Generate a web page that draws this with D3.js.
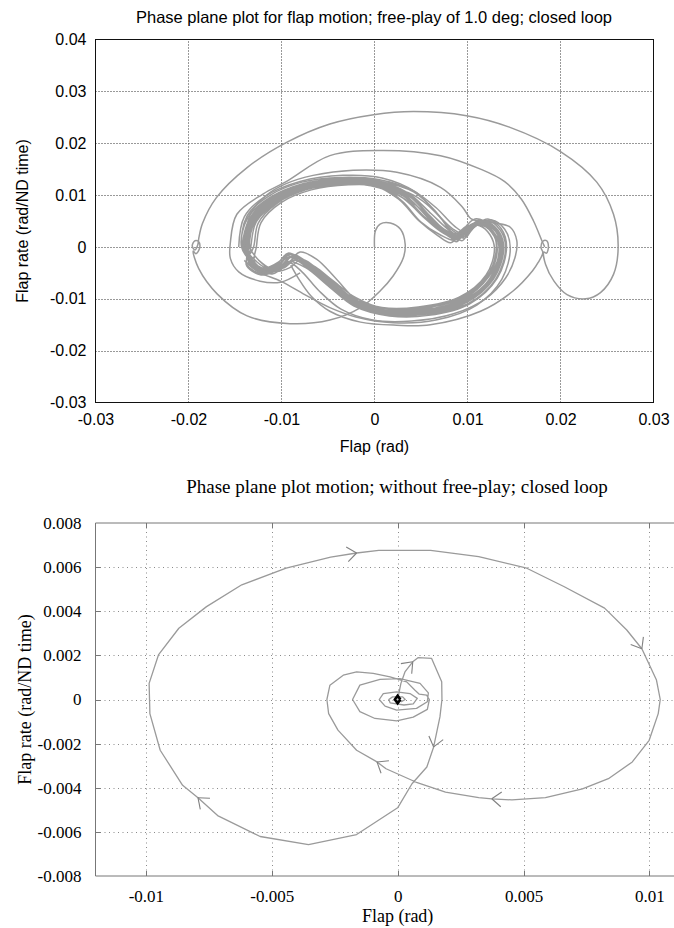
<!DOCTYPE html>
<html>
<head>
<meta charset="utf-8">
<script src="https://cdn.jsdelivr.net/npm/d3@7"></script>
<style>
  html, body { margin: 0; padding: 0; background: #fff; }
  svg { display: block; }
</style>
</head>
<body>
<div id="chart"></div>
<script>
// ---------- top panel: free-play of 1.0 deg ----------
const topTitle = "Phase plane plot for flap motion; free-play of 1.0 deg; closed loop";
const topXTicks = [-0.03, -0.02, -0.01, 0, 0.01, 0.02, 0.03];
const topXLabels = ["-0.03", "-0.02", "-0.01", "0", "0.01", "0.02", "0.03"];
const topYTicks = [-0.03, -0.02, -0.01, 0, 0.01, 0.02, 0.03, 0.04];
const topYLabels = ["-0.03", "-0.02", "-0.01", "0", "0.01", "0.02", "0.03", "0.04"];

// first swing: origin loop, lower-left arc, left stop, outer orbit, right stop, return
const topTransient = [
  [0.0000, 0.0000], [0.0001, 0.0031], [0.0006, 0.0044], [0.0017, 0.0046], [0.0028, 0.0034],
  [0.0033, 0.0005], [0.0031, -0.0021], [0.0020, -0.0056], [0.0006, -0.0085],
  [-0.0015, -0.0117], [-0.0048, -0.0141], [-0.0091, -0.0148], [-0.0137, -0.0133],
  [-0.0169, -0.0091], [-0.0189, -0.0042], [-0.0195, -0.0008],
  [-0.0192, -0.0013], [-0.0188, -0.0002], [-0.0189, 0.0010], [-0.0193, 0.0012],
  [-0.0196, 0.0002], [-0.0193, -0.0006], [-0.0190, 0.0004], [-0.0189, 0.0016],
  [-0.0185, 0.0045], [-0.0170, 0.0095], [-0.0137, 0.0153], [-0.0094, 0.0202],
  [-0.0048, 0.0237], [-0.0001, 0.0255], [0.0042, 0.0261], [0.0099, 0.0253],
  [0.0145, 0.0231], [0.0200, 0.0184], [0.0239, 0.0125], [0.0257, 0.0063],
  [0.0262, 0.0000], [0.0257, -0.0053], [0.0243, -0.0088], [0.0227, -0.0100],
  [0.0207, -0.0092], [0.0193, -0.0066], [0.0184, -0.0034], [0.0182, -0.0010],
  [0.0185, -0.0012], [0.0187, 0.0001], [0.0185, 0.0012], [0.0181, 0.0011],
  [0.0179, -0.0001], [0.0181, -0.0011],
  [0.0176, -0.0030], [0.0170, -0.0046], [0.0149, -0.0085], [0.0114, -0.0124],
  [0.0060, -0.0150], [0.0024, -0.0151], [-0.0015, -0.0145], [-0.0048, -0.0124],
  [-0.0068, -0.0095], [-0.0082, -0.0060], [-0.0090, -0.0035]
];

// the settled band of limit-cycle loops, one entry per orbit
const bandLoops = [
  [[-0.0137,0.0000],[-0.0131,0.0052],[-0.0106,0.0092],[-0.0072,0.0118],[-0.0032,0.0128],[0.0004,0.0123],[0.0034,0.0098],[0.0057,0.0058],[0.0076,0.0028],[0.0090,0.0016],[0.0100,0.0034],[0.0115,0.0046],[0.0130,0.0030],[0.0136,-0.0004],[0.0125,-0.0060],[0.0096,-0.0104],[0.0052,-0.0123],[0.0012,-0.0125],[-0.0024,-0.0104],[-0.0050,-0.0066],[-0.0074,-0.0030],[-0.0088,-0.0017],[-0.0098,-0.0034],[-0.0116,-0.0046],[-0.0131,-0.0030]],
  [[-0.0141,0.0000],[-0.0134,0.0055],[-0.0109,0.0095],[-0.0074,0.0121],[-0.0030,0.0131],[0.0006,0.0126],[0.0042,0.0106],[0.0066,0.0068],[0.0082,0.0030],[0.0094,0.0012],[0.0103,0.0032],[0.0118,0.0050],[0.0133,0.0032],[0.0139,-0.0003],[0.0128,-0.0062],[0.0098,-0.0108],[0.0054,-0.0128],[0.0012,-0.0129],[-0.0026,-0.0107],[-0.0053,-0.0068],[-0.0078,-0.0028],[-0.0092,-0.0013],[-0.0102,-0.0033],[-0.0118,-0.0050],[-0.0135,-0.0032]],
  [[-0.0133,0.0000],[-0.0127,0.0049],[-0.0103,0.0088],[-0.0070,0.0113],[-0.0034,0.0123],[0.0001,0.0119],[0.0031,0.0094],[0.0053,0.0057],[0.0071,0.0030],[0.0085,0.0019],[0.0096,0.0035],[0.0112,0.0043],[0.0126,0.0028],[0.0132,-0.0005],[0.0122,-0.0058],[0.0093,-0.0100],[0.0049,-0.0119],[0.0010,-0.0121],[-0.0022,-0.0100],[-0.0047,-0.0064],[-0.0070,-0.0032],[-0.0084,-0.0020],[-0.0095,-0.0036],[-0.0113,-0.0043],[-0.0127,-0.0028]],
  [[-0.0139,0.0000],[-0.0132,0.0054],[-0.0107,0.0093],[-0.0071,0.0120],[-0.0028,0.0129],[0.0008,0.0122],[0.0040,0.0094],[0.0062,0.0052],[0.0079,0.0024],[0.0088,0.0010],[0.0097,0.0028],[0.0113,0.0052],[0.0131,0.0035],[0.0138,0.0000],[0.0127,-0.0059],[0.0099,-0.0106],[0.0056,-0.0126],[0.0015,-0.0127],[-0.0021,-0.0108],[-0.0048,-0.0070],[-0.0072,-0.0034],[-0.0086,-0.0022],[-0.0096,-0.0038],[-0.0112,-0.0048],[-0.0132,-0.0028]],
  [[-0.0136,0.0000],[-0.0130,0.0050],[-0.0108,0.0090],[-0.0076,0.0116],[-0.0036,0.0127],[0.0000,0.0124],[0.0030,0.0103],[0.0054,0.0064],[0.0074,0.0031],[0.0093,0.0021],[0.0104,0.0037],[0.0119,0.0044],[0.0132,0.0026],[0.0135,-0.0006],[0.0123,-0.0057],[0.0094,-0.0102],[0.0050,-0.0122],[0.0010,-0.0123],[-0.0027,-0.0100],[-0.0053,-0.0062],[-0.0076,-0.0026],[-0.0091,-0.0014],[-0.0101,-0.0030],[-0.0118,-0.0042],[-0.0130,-0.0032]],
  [[-0.0143,0.0000],[-0.0136,0.0057],[-0.0111,0.0097],[-0.0076,0.0122],[-0.0033,0.0132],[0.0004,0.0127],[0.0036,0.0104],[0.0061,0.0064],[0.0082,0.0030],[0.0097,0.0017],[0.0106,0.0036],[0.0121,0.0051],[0.0135,0.0033],[0.0141,-0.0002],[0.0130,-0.0063],[0.0100,-0.0110],[0.0055,-0.0130],[0.0013,-0.0131],[-0.0025,-0.0110],[-0.0052,-0.0070],[-0.0080,-0.0030],[-0.0095,-0.0016],[-0.0105,-0.0034],[-0.0120,-0.0052],[-0.0137,-0.0034]],
  [[-0.0135,0.0000],[-0.0129,0.0051],[-0.0105,0.0090],[-0.0073,0.0115],[-0.0031,0.0125],[0.0005,0.0119],[0.0030,0.0088],[0.0050,0.0048],[0.0070,0.0024],[0.0086,0.0013],[0.0094,0.0030],[0.0110,0.0047],[0.0127,0.0031],[0.0134,-0.0002],[0.0124,-0.0061],[0.0095,-0.0103],[0.0051,-0.0121],[0.0011,-0.0122],[-0.0023,-0.0102],[-0.0049,-0.0065],[-0.0073,-0.0029],[-0.0087,-0.0015],[-0.0097,-0.0032],[-0.0114,-0.0047],[-0.0129,-0.0030]],
  [[-0.0138,0.0000],[-0.0131,0.0053],[-0.0107,0.0092],[-0.0073,0.0119],[-0.0031,0.0129],[0.0005,0.0125],[0.0037,0.0101],[0.0059,0.0061],[0.0078,0.0029],[0.0092,0.0018],[0.0101,0.0035],[0.0116,0.0048],[0.0131,0.0031],[0.0137,-0.0004],[0.0126,-0.0060],[0.0097,-0.0105],[0.0053,-0.0125],[0.0013,-0.0126],[-0.0023,-0.0105],[-0.0051,-0.0067],[-0.0075,-0.0031],[-0.0090,-0.0018],[-0.0100,-0.0035],[-0.0117,-0.0047],[-0.0132,-0.0031]],
  [[-0.0140,0.0000],[-0.0134,0.0056],[-0.0110,0.0096],[-0.0077,0.0122],[-0.0035,0.0130],[0.0002,0.0124],[0.0032,0.0097],[0.0055,0.0056],[0.0077,0.0025],[0.0089,0.0014],[0.0099,0.0033],[0.0114,0.0049],[0.0129,0.0034],[0.0137,0.0001],[0.0127,-0.0058],[0.0098,-0.0104],[0.0054,-0.0124],[0.0014,-0.0125],[-0.0022,-0.0103],[-0.0049,-0.0066],[-0.0073,-0.0032],[-0.0089,-0.0019],[-0.0099,-0.0037],[-0.0115,-0.0049],[-0.0133,-0.0034]],
  [[-0.0137,0.0000],[-0.0132,0.0048],[-0.0110,0.0088],[-0.0075,0.0114],[-0.0033,0.0124],[0.0003,0.0120],[0.0033,0.0096],[0.0058,0.0060],[0.0077,0.0032],[0.0091,0.0022],[0.0102,0.0038],[0.0117,0.0042],[0.0129,0.0024],[0.0134,-0.0006],[0.0123,-0.0064],[0.0094,-0.0106],[0.0050,-0.0125],[0.0011,-0.0124],[-0.0024,-0.0101],[-0.0051,-0.0061],[-0.0077,-0.0025],[-0.0093,-0.0012],[-0.0103,-0.0029],[-0.0119,-0.0041],[-0.0133,-0.0027]],
  [[-0.0139,0.0000],[-0.0133,0.0053],[-0.0108,0.0094],[-0.0074,0.0120],[-0.0032,0.0130],[0.0005,0.0125],[0.0036,0.0100],[0.0059,0.0059],[0.0079,0.0028],[0.0095,0.0019],[0.0105,0.0037],[0.0120,0.0048],[0.0134,0.0029],[0.0139,-0.0004],[0.0128,-0.0061],[0.0099,-0.0107],[0.0054,-0.0127],[0.0013,-0.0128],[-0.0024,-0.0106],[-0.0052,-0.0068],[-0.0077,-0.0032],[-0.0093,-0.0020],[-0.0104,-0.0038],[-0.0120,-0.0047],[-0.0134,-0.0030]],
  [[-0.0136,0.0000],[-0.0130,0.0051],[-0.0106,0.0091],[-0.0072,0.0117],[-0.0030,0.0127],[0.0006,0.0121],[0.0036,0.0095],[0.0058,0.0055],[0.0075,0.0026],[0.0087,0.0015],[0.0097,0.0031],[0.0113,0.0045],[0.0128,0.0029],[0.0135,-0.0003],[0.0125,-0.0059],[0.0096,-0.0103],[0.0052,-0.0122],[0.0012,-0.0124],[-0.0022,-0.0103],[-0.0048,-0.0067],[-0.0071,-0.0033],[-0.0085,-0.0021],[-0.0095,-0.0037],[-0.0112,-0.0046],[-0.0129,-0.0029]],
  [[-0.0127,0.0000],[-0.0122,0.0047],[-0.0100,0.0086],[-0.0068,0.0110],[-0.0028,0.0120],[0.0010,0.0117],[0.0042,0.0100],[0.0064,0.0070],[0.0081,0.0036],[0.0093,0.0024],[0.0103,0.0040],[0.0116,0.0050],[0.0127,0.0030],[0.0131,-0.0003],[0.0121,-0.0056],[0.0092,-0.0098],[0.0048,-0.0117],[0.0009,-0.0118],[-0.0020,-0.0098],[-0.0044,-0.0066],[-0.0064,-0.0038],[-0.0079,-0.0024],[-0.0091,-0.0040],[-0.0108,-0.0047],[-0.0122,-0.0030]],
  [[-0.0134,0.0000],[-0.0128,0.0050],[-0.0104,0.0090],[-0.0070,0.0116],[-0.0034,0.0126],[-0.0002,0.0120],[0.0026,0.0092],[0.0048,0.0050],[0.0068,0.0022],[0.0082,0.0008],[0.0092,0.0026],[0.0108,0.0054],[0.0126,0.0040],[0.0135,0.0004],[0.0126,-0.0056],[0.0098,-0.0102],[0.0054,-0.0122],[0.0014,-0.0124],[-0.0018,-0.0104],[-0.0042,-0.0060],[-0.0062,-0.0024],[-0.0080,-0.0010],[-0.0091,-0.0028],[-0.0110,-0.0052],[-0.0128,-0.0036]],
  [[-0.0142,0.0000],[-0.0137,0.0060],[-0.0112,0.0100],[-0.0078,0.0125],[-0.0036,0.0134],[0.0004,0.0130],[0.0040,0.0110],[0.0066,0.0076],[0.0086,0.0040],[0.0100,0.0026],[0.0109,0.0042],[0.0122,0.0054],[0.0136,0.0036],[0.0142,0.0000],[0.0132,-0.0060],[0.0102,-0.0110],[0.0058,-0.0132],[0.0016,-0.0133],[-0.0022,-0.0114],[-0.0048,-0.0078],[-0.0074,-0.0040],[-0.0092,-0.0028],[-0.0104,-0.0044],[-0.0122,-0.0054],[-0.0138,-0.0034]],
  [[-0.0130,0.0000],[-0.0125,0.0046],[-0.0104,0.0085],[-0.0074,0.0110],[-0.0038,0.0121],[-0.0004,0.0118],[0.0028,0.0097],[0.0052,0.0060],[0.0072,0.0034],[0.0088,0.0026],[0.0099,0.0040],[0.0113,0.0041],[0.0124,0.0024],[0.0129,-0.0004],[0.0120,-0.0054],[0.0091,-0.0097],[0.0047,-0.0116],[0.0008,-0.0117],[-0.0026,-0.0097],[-0.0052,-0.0060],[-0.0070,-0.0036],[-0.0086,-0.0026],[-0.0097,-0.0040],[-0.0112,-0.0041],[-0.0125,-0.0025]]
];

// wider orbits around the band
const loopC = [
  [-0.0140,0.0000],[-0.0133,0.0065],[-0.0116,0.0100],[-0.0095,0.0122],[-0.0066,0.0138],[-0.0023,0.0148],
  [0.0024,0.0144],[0.0071,0.0115],[0.0094,0.0078],[0.0104,0.0054],[0.0114,0.0050],[0.0130,0.0046],
  [0.0146,0.0038],[0.0153,0.0012],[0.0151,-0.0021],[0.0141,-0.0060],[0.0120,-0.0099],[0.0085,-0.0129],
  [0.0040,-0.0143],[-0.0002,-0.0141],[-0.0036,-0.0120],[-0.0060,-0.0084],[-0.0078,-0.0048],
  [-0.0092,-0.0030],[-0.0108,-0.0046],[-0.0128,-0.0040],[-0.0138,-0.0015]
];
const loopD = [
  [-0.0146,0.0000],[-0.0140,0.0058],[-0.0117,0.0098],[-0.0080,0.0126],[-0.0034,0.0138],[0.0008,0.0133],
  [0.0044,0.0106],[0.0066,0.0066],[0.0084,0.0035],[0.0098,0.0024],[0.0110,0.0042],[0.0126,0.0052],
  [0.0140,0.0034],[0.0146,-0.0002],[0.0137,-0.0062],[0.0110,-0.0112],[0.0066,-0.0141],[0.0020,-0.0146],
  [-0.0020,-0.0135],[-0.0048,-0.0117],[-0.0075,-0.0092],[-0.0101,-0.0066],[-0.0125,-0.0048],[-0.0140,-0.0026]
];
const loopB = [
  [-0.0080,-0.0050],[-0.0101,-0.0068],[-0.0123,-0.0066],[-0.0146,-0.0048],[-0.0155,-0.0022],[-0.0155,0.0008],
  [-0.0148,0.0063],[-0.0120,0.0102],[-0.0094,0.0127],[-0.0048,0.0176],[0.0006,0.0186],[0.0071,0.0176],
  [0.0114,0.0150],[0.0140,0.0126],[0.0158,0.0092],[0.0171,0.0050],[0.0180,0.0012],[0.0183,0.0000]
];

// ---------- bottom panel: without free-play ----------
const botTitle = "Phase plane plot motion; without free-play; closed loop";
const botXTicks = [-0.01, -0.005, 0, 0.005, 0.01];
const botXLabels = ["-0.01", "-0.005", "0", "0.005", "0.01"];
const botYTicks = [-0.008, -0.006, -0.004, -0.002, 0, 0.002, 0.004, 0.006, 0.008];
const botYLabels = ["-0.008", "-0.006", "-0.004", "-0.002", "0", "0.002", "0.004", "0.006", "0.008"];

const lowerPath = [
  [0, 0], [0.00013, 0.00073], [0.00029, 0.00125], [0.0006, 0.00171], [0.00082, 0.0019],
  [0.00135, 0.00186], [0.00175, 0.0008], [0.00176, 0], [0.00168, -0.00079], [0.00143, -0.00215],
  [0.00116, -0.00306], [0.00057, -0.00382], [0, -0.00491], [-0.00163, -0.00612], [-0.00354, -0.00658],
  [-0.00546, -0.00621], [-0.00715, -0.00526], [-0.00793, -0.00445], [-0.00854, -0.00389], [-0.00943, -0.0023],
  [-0.00984, -0.00064], [-0.00987, 0.00073], [-0.0095, 0.00202], [-0.00869, 0.00323], [-0.00759, 0.00421],
  [-0.00619, 0.0052], [-0.00443, 0.00595], [-0.00266, 0.00645], [-0.00163, 0.00664], [-0.00075, 0.00676],
  [0.00131, 0.00676], [0.00322, 0.00648], [0.00513, 0.00595], [0.0066, 0.00512], [0.00822, 0.00414],
  [0.0091, 0.00315], [0.0097, 0.0023], [0.01028, 0.00088], [0.01043, 0], [0.01035, -0.00064],
  [0.00999, -0.00185], [0.00932, -0.00283], [0.00837, -0.00359], [0.00734, -0.00405], [0.00587, -0.00445],
  [0.00454, -0.00455], [0.00374, -0.0045], [0.00322, -0.00445], [0.0019, -0.0042], [0.00072, -0.00374],
  [-0.00046, -0.00314], [-0.00082, -0.00283], [-0.00163, -0.0023], [-0.00237, -0.00139], [-0.00274, -0.00064],
  [-0.00281, 0], [-0.00269, 0.00065], [-0.00216, 0.0011], [-0.00163, 0.00125], [-0.00097, 0.00118],
  [-0.0003, 0.00103], [0.00036, 0.0008], [0.00069, 0.00042], [0.00086, 0.00024], [0.00115, 0.0002],
  [0.00126, 0], [0.00118, -0.00045], [0.00062, -0.0008], [-0.00004, -0.00097], [-0.0009, -0.00086],
  [-0.0015, -0.00055], [-0.00179, 0], [-0.0015, 0.00065], [-0.0007, 0.00091], [0.00009, 0.00095],
  [0.00089, 0.00073], [0.00122, 0.0003], [0.00118, -0.0001], [0.00075, -0.0004], [-0.00004, -0.00048],
  [-0.0005, -0.0003], [-0.00073, 0], [-0.00057, 0.00027], [-0.00004, 0.00035], [0.00049, 0.00027],
  [0.00078, 0.00005], [0.00062, -0.0002], [0.00025, -0.00025], [-0.0003, -0.00015], [-0.00035, 0],
  [-0.0002, 0.00012], [0.0002, 0.00012], [0.0003, 0], [0.00015, -0.0001], [0, 0]
];
// indices of lowerPath where a direction arrow sits
const lowerArrows = [3, 9, 17, 28, 36, 46, 51];
// final settled state around the origin
const settlePath = [[0.00011, 0], [0, 0.00017], [-0.00011, 0], [0, -0.00017], [0.00011, 0]];

// ---------- drawing ----------
const W = 674, H = 928;
const svg = d3.select("#chart").append("svg").attr("width", W).attr("height", H);

const sans = "'Liberation Sans', Arial, Helvetica, sans-serif";
const serif = "'Liberation Serif', 'Times New Roman', Times, serif";

// top panel
const tx = d3.scaleLinear().domain([-0.03, 0.03]).range([95.5, 653.5]);
const ty = d3.scaleLinear().domain([-0.03, 0.04]).range([402.5, 39.5]);
const topG = svg.append("g").attr("class", "top-panel");

topG.append("g").selectAll("line").data(topXTicks.slice(1, -1)).join("line")
  .attr("x1", d => tx(d)).attr("x2", d => tx(d))
  .attr("y1", ty(-0.03)).attr("y2", ty(0.04))
  .attr("stroke", "#333").attr("stroke-width", 1).attr("stroke-dasharray", "1,2");
topG.append("g").selectAll("line").data(topYTicks.slice(1, -1)).join("line")
  .attr("x1", tx(-0.03)).attr("x2", tx(0.03))
  .attr("y1", d => Math.round(ty(d)) + 0.5).attr("y2", d => Math.round(ty(d)) + 0.5)
  .attr("stroke", "#333").attr("stroke-width", 1).attr("stroke-dasharray", "1,2");

const topLine = d3.line().x(d => tx(d[0])).y(d => ty(d[1])).curve(d3.curveCatmullRom.alpha(0.5));
const topSeries = [topTransient, d3.merge(bandLoops), loopC, loopD, loopB];
topG.append("g").selectAll("path").data(topSeries).join("path")
  .attr("d", topLine)
  .attr("fill", "none").attr("stroke", "#9a9a9a").attr("stroke-width", 1.5)
  .attr("stroke-linejoin", "round");

topG.append("rect")
  .attr("x", tx(-0.03)).attr("y", ty(0.04))
  .attr("width", tx(0.03) - tx(-0.03)).attr("height", ty(-0.03) - ty(0.04))
  .attr("fill", "none").attr("stroke", "#111").attr("stroke-width", 1);

topG.append("g").attr("transform", `translate(0,${ty(-0.03)})`)
  .call(d3.axisBottom(tx).tickValues(topXTicks).tickFormat((d, i) => topXLabels[i]).tickSize(0).tickPadding(11))
  .call(g => g.select(".domain").remove())
  .selectAll("text").attr("font-family", sans).attr("font-size", 16).attr("fill", "#000");
topG.append("g").attr("transform", `translate(${tx(-0.03)},0)`)
  .call(d3.axisLeft(ty).tickValues(topYTicks).tickFormat((d, i) => topYLabels[i]).tickSize(0).tickPadding(9))
  .call(g => g.select(".domain").remove())
  .selectAll("text").attr("font-family", sans).attr("font-size", 16).attr("fill", "#000");

topG.append("text").attr("x", 374).attr("y", 22.5).attr("text-anchor", "middle")
  .attr("font-family", sans).attr("font-size", 16.5).text(topTitle);
topG.append("text").attr("x", (tx(-0.03) + tx(0.03)) / 2).attr("y", 452).attr("text-anchor", "middle")
  .attr("font-family", sans).attr("font-size", 16).text("Flap (rad)");
topG.append("text").attr("transform", `translate(28,${(ty(-0.03) + ty(0.04)) / 2}) rotate(-90)`)
  .attr("text-anchor", "middle").attr("font-family", sans).attr("font-size", 16)
  .text("Flap rate (rad/ND time)");

// bottom panel
const bx = d3.scaleLinear().domain([-0.012, 0.011]).range([95.5, 674.6]);
const by = d3.scaleLinear().domain([-0.008, 0.008]).range([876, 523]);
const botG = svg.append("g").attr("class", "bottom-panel");

botG.append("g").selectAll("line").data(botXTicks).join("line")
  .attr("x1", d => Math.round(bx(d)) + 0.5).attr("x2", d => Math.round(bx(d)) + 0.5)
  .attr("y1", by(0.008)).attr("y2", by(-0.008))
  .attr("stroke", "#8a8a8a").attr("stroke-width", 1).attr("stroke-dasharray", "1,3.5");
botG.append("g").selectAll("line").data(botYTicks.slice(1, -1)).join("line")
  .attr("x1", bx(-0.012)).attr("x2", W)
  .attr("y1", d => Math.round(by(d)) + 0.5).attr("y2", d => Math.round(by(d)) + 0.5)
  .attr("stroke", "#8a8a8a").attr("stroke-width", 1).attr("stroke-dasharray", "1,3.5");

// inner tick marks on the frame
const tickLen = 5;
botG.append("g").selectAll("line").data(botYTicks.slice(1, -1)).join("line")
  .attr("x1", bx(-0.012)).attr("x2", bx(-0.012) + tickLen)
  .attr("y1", d => Math.round(by(d)) + 0.5).attr("y2", d => Math.round(by(d)) + 0.5)
  .attr("stroke", "#777");
botG.append("g").selectAll("line").data(botXTicks).join("line")
  .attr("x1", d => Math.round(bx(d)) + 0.5).attr("x2", d => Math.round(bx(d)) + 0.5)
  .attr("y1", by(0.008)).attr("y2", by(0.008) + tickLen)
  .attr("stroke", "#777");
botG.append("g").selectAll("line").data(botXTicks).join("line")
  .attr("x1", d => Math.round(bx(d)) + 0.5).attr("x2", d => Math.round(bx(d)) + 0.5)
  .attr("y1", by(-0.008)).attr("y2", by(-0.008) - tickLen)
  .attr("stroke", "#777");

const botLine = d3.line().x(d => bx(d[0])).y(d => by(d[1]));
botG.append("path").datum(lowerPath).attr("d", botLine)
  .attr("fill", "none").attr("stroke", "#9a9a9a").attr("stroke-width", 1.3)
  .attr("stroke-linejoin", "round");

// open arrowheads along the trajectory
const wingLen = 12, wingSpread = 38 * Math.PI / 180;
const wings = [];
lowerArrows.forEach(i => {
  const a = lowerPath[i - 1], p = lowerPath[i], b = lowerPath[i + 1];
  const ang = Math.atan2(by(b[1]) - by(a[1]), bx(b[0]) - bx(a[0]));
  [-1, 1].forEach(s => {
    const w = ang + Math.PI + s * wingSpread;
    wings.push({ x1: bx(p[0]), y1: by(p[1]), x2: bx(p[0]) + wingLen * Math.cos(w), y2: by(p[1]) + wingLen * Math.sin(w) });
  });
});
botG.append("g").selectAll("line").data(wings).join("line")
  .attr("x1", d => d.x1).attr("y1", d => d.y1).attr("x2", d => d.x2).attr("y2", d => d.y2)
  .attr("stroke", "#808080").attr("stroke-width", 1.1);

botG.append("path").datum(settlePath).attr("d", botLine)
  .attr("fill", "none").attr("stroke", "#000").attr("stroke-width", 2.6).attr("stroke-linejoin", "miter");

// frame (right edge falls just past the page)
botG.append("path")
  .attr("d", `M${W},${by(0.008)}H${bx(-0.012)}V${by(-0.008)}H${W}`)
  .attr("fill", "none").attr("stroke", "#777").attr("stroke-width", 1);

botG.append("g").attr("transform", `translate(0,${by(-0.008)})`)
  .call(d3.axisBottom(bx).tickValues(botXTicks).tickFormat((d, i) => botXLabels[i]).tickSize(0).tickPadding(14))
  .call(g => g.select(".domain").remove())
  .selectAll("text").attr("font-family", serif).attr("font-size", 17).attr("fill", "#000");
botG.append("g").attr("transform", `translate(${bx(-0.012)},0)`)
  .call(d3.axisLeft(by).tickValues(botYTicks).tickFormat((d, i) => botYLabels[i]).tickSize(0).tickPadding(14))
  .call(g => g.select(".domain").remove())
  .selectAll("text").attr("font-family", serif).attr("font-size", 17).attr("fill", "#000");

botG.append("text").attr("x", 397).attr("y", 493).attr("text-anchor", "middle")
  .attr("font-family", serif).attr("font-size", 19).text(botTitle);
botG.append("text").attr("x", bx(0)).attr("y", 922).attr("text-anchor", "middle")
  .attr("font-family", serif).attr("font-size", 18).text("Flap (rad)");
botG.append("text").attr("transform", `translate(31,${(by(-0.008) + by(0.008)) / 2}) rotate(-90)`)
  .attr("text-anchor", "middle").attr("font-family", serif).attr("font-size", 18)
  .text("Flap rate (rad/ND time)");
</script>
</body>
</html>
